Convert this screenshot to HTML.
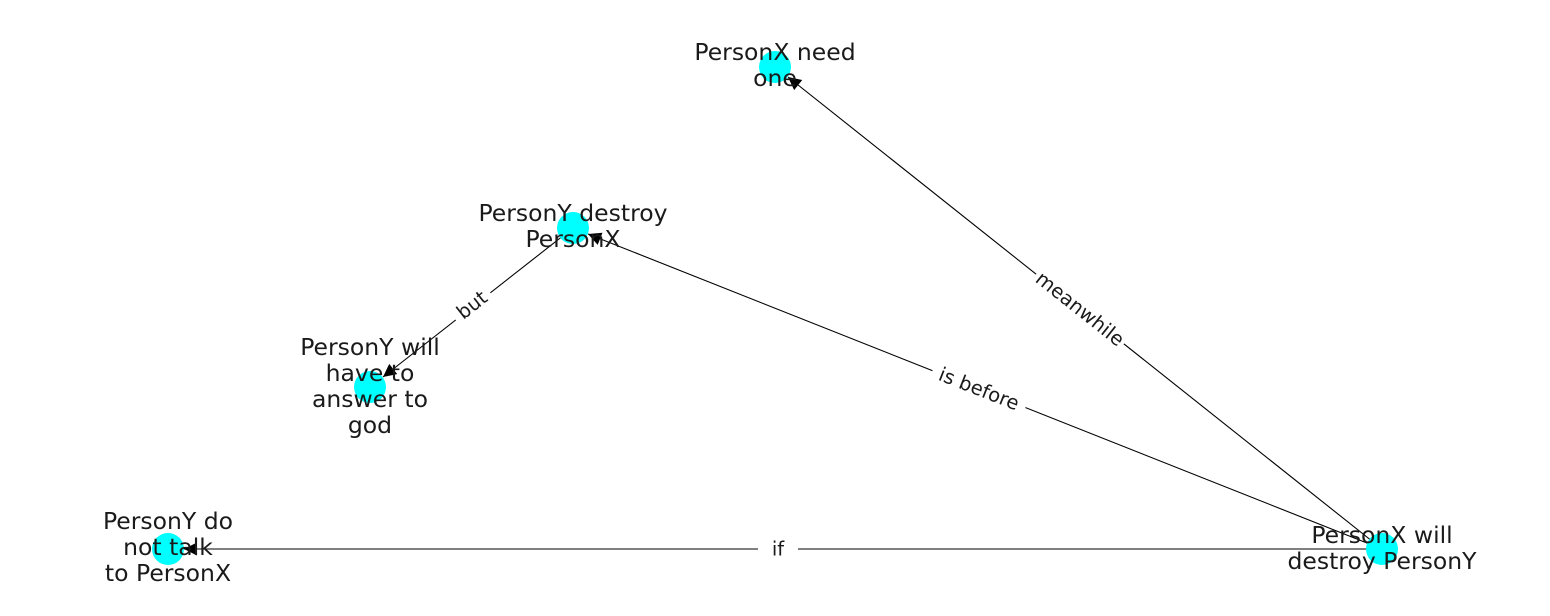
<!DOCTYPE html>
<html><head><meta charset="utf-8"><style>
html,body{margin:0;padding:0;background:#fff;}
svg{display:block;}
.n{font-family:"DejaVu Sans","Liberation Sans",sans-serif;font-size:23.5px;fill:#1a1a1a;text-anchor:middle;}
.e{font-family:"DejaVu Sans","Liberation Sans",sans-serif;font-size:19.5px;fill:#1a1a1a;text-anchor:middle;dominant-baseline:central;}
</style></head><body>
<svg width="1550" height="616" viewBox="0 0 1550 616" xmlns="http://www.w3.org/2000/svg">
<defs><marker id="a" viewBox="0 0 10 10" refX="10" refY="5" markerWidth="14" markerHeight="13" markerUnits="userSpaceOnUse" orient="auto"><path d="M0,0 L10,5 L0,10 z" fill="#000"/></marker></defs>
<g stroke="#000" stroke-width="1.1" fill="none">
<line x1="1382" y1="549" x2="788" y2="77" marker-end="url(#a)"/>
<line x1="1382" y1="549" x2="588" y2="234" marker-end="url(#a)"/>
<line x1="573" y1="228" x2="383" y2="377" marker-end="url(#a)"/>
<line x1="1382" y1="549" x2="184" y2="549" marker-end="url(#a)"/>
</g>
<g fill="#00FFFF">
<circle cx="775" cy="67" r="16"/><circle cx="573" cy="228" r="16"/><circle cx="370" cy="387" r="16"/><circle cx="168" cy="549" r="16"/><circle cx="1382" cy="549" r="16"/>
</g>
<g>
<g transform="translate(1080,309) rotate(38.5)"><rect x="-56" y="-12" width="112" height="24" fill="#fff"/><text class="e">meanwhile</text></g>
<g transform="translate(979,389) rotate(21.6)"><rect x="-50" y="-12" width="100" height="24" fill="#fff"/><text class="e">is before</text></g>
<g transform="translate(472,305) rotate(-38)"><rect x="-22" y="-12" width="44" height="24" fill="#fff"/><text class="e">but</text></g>
<g transform="translate(778,549)"><rect x="-20" y="-12" width="40" height="24" fill="#fff"/><text class="e">if</text></g>
</g>
<text class="n" x="775" y="60">PersonX need</text><text class="n" x="775" y="86">one</text>
<text class="n" x="573" y="221">PersonY destroy</text><text class="n" x="573" y="247">PersonX</text>
<text class="n" x="370" y="355">PersonY will</text><text class="n" x="370" y="381">have to</text><text class="n" x="370" y="407">answer to</text><text class="n" x="370" y="433">god</text>
<text class="n" x="168" y="529">PersonY do</text><text class="n" x="168" y="555">not talk</text><text class="n" x="168" y="581">to PersonX</text>
<text class="n" x="1382" y="543">PersonX will</text><text class="n" x="1382" y="569">destroy PersonY</text>
</svg>
</body></html>
